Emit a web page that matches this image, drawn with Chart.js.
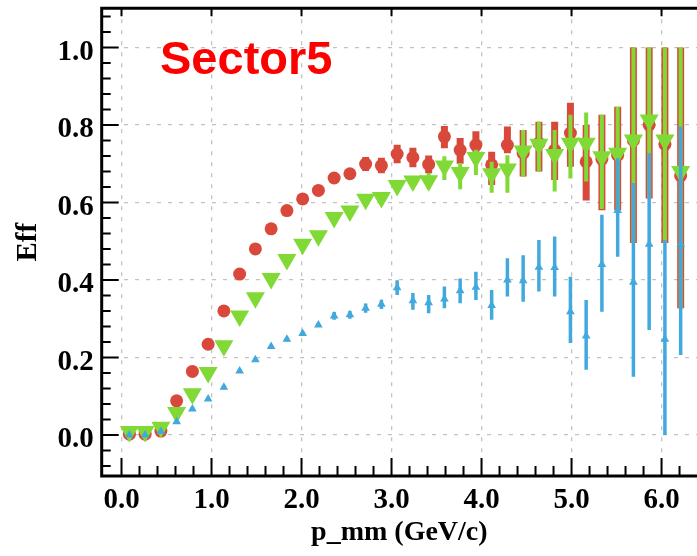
<!DOCTYPE html>
<html lang="en">
  <head>
    <title>Sector5 efficiency</title>
    <meta charset="UTF-8" />
    <style>
      html,
      body {
        margin: 0;
        padding: 0;
        background: #fff;
      }
      .plot {
        position: relative;
        width: 697px;
        height: 556px;
      }
    </style>
  </head>
  <body>
    <div class="plot">
      <canvas id="effChart" width="697" height="556"></canvas>
    </div>
    <script src="https://cdn.jsdelivr.net/npm/chart.js@4.4.0/dist/chart.umd.min.js"></script>
    <script>
      // bin centres in p_mm (GeV/c)
      var pBins = [0.0875, 0.2625, 0.4375, 0.6125, 0.7875, 0.9625, 1.1375, 1.3125, 1.4875,
        1.6625, 1.8375, 2.0125, 2.1875, 2.3625, 2.5375, 2.7125, 2.8875, 3.0625, 3.2375,
        3.4125, 3.5875, 3.7625, 3.9375, 4.1125, 4.2875, 4.4625, 4.6375, 4.8125, 4.9875,
        5.1625, 5.3375, 5.5125, 5.6875, 5.8625, 6.0375, 6.2125];

      // red circles
      var effRed = [0.002, 0.002, 0.01, 0.088, 0.164, 0.234, 0.32, 0.415, 0.48, 0.532,
        0.579, 0.609, 0.631, 0.663, 0.674, 0.699, 0.695, 0.725, 0.716, 0.698, 0.77, 0.735,
        0.748, 0.697, 0.748, 0.727, 0.753, 0.735, 0.779, 0.705, 0.712, 0.722, 0.76, 0.8,
        0.75, 0.669];
      var redUp = [0.008, 0.008, 0.008, 0.008, 0.008, 0.008, 0.008, 0.008, 0.008, 0.008,
        0.008, 0.008, 0.008, 0.008, 0.008, 0.018, 0.02, 0.024, 0.025, 0.023, 0.027, 0.031,
        0.036, 0.034, 0.048, 0.06, 0.055, 0.073, 0.078, 0.095, 0.114, 0.125, 0.24, 0.2,
        0.25, 0.331];
      var redDown = [0.002, 0.002, 0.008, 0.008, 0.008, 0.008, 0.008, 0.008, 0.008, 0.008,
        0.008, 0.008, 0.008, 0.008, 0.008, 0.018, 0.02, 0.024, 0.025, 0.023, 0.03, 0.035,
        0.017, 0.052, 0.021, 0.06, 0.073, 0.077, 0.087, 0.1, 0.132, 0.142, 0.265, 0.19,
        0.255, 0.342];

      // green down-triangles
      var effGreen = [0.009, 0.009, 0.02, 0.058, 0.106, 0.161, 0.23, 0.307, 0.354, 0.404,
        0.453, 0.492, 0.514, 0.561, 0.578, 0.608, 0.613, 0.644, 0.655, 0.656, 0.694, 0.677,
        0.716, 0.674, 0.686, 0.733, 0.75, 0.724, 0.753, 0.753, 0.718, 0.727, 0.761, 0.813,
        0.761, 0.68];
      var greenUp = [0.01, 0.01, 0.01, 0.01, 0.01, 0.01, 0.01, 0.01, 0.01, 0.01, 0.01, 0.01,
        0.01, 0.01, 0.01, 0.01, 0.01, 0.01, 0.01, 0.02, 0.025, 0.025, 0.02, 0.031, 0.036,
        0.054, 0.058, 0.063, 0.073, 0.079, 0.108, 0.12, 0.239, 0.187, 0.239, 0.32];
      var greenDown = [0.01, 0.01, 0.01, 0.01, 0.01, 0.01, 0.01, 0.01, 0.01, 0.01, 0.01,
        0.01, 0.01, 0.01, 0.01, 0.01, 0.01, 0.01, 0.01, 0.02, 0.036, 0.043, 0.045, 0.049,
        0.061, 0.066, 0.07, 0.096, 0.091, 0.099, 0.135, 0.147, 0.266, 0.203, 0.266, 0.353];

      // blue up-triangles
      var effBlue = [0.0, 0.0, 0.009, 0.034, 0.067, 0.093, 0.123, 0.165, 0.194, 0.228,
        0.247, 0.262, 0.284, 0.307, 0.31, 0.327, 0.337, 0.38, 0.346, 0.341, 0.351, 0.372,
        0.381, 0.334, 0.4, 0.398, 0.433, 0.432, 0.318, 0.255, 0.44, 0.579, 0.394, 0.492,
        0.247, 0.492];
      var blueUp = [0.005, 0.005, 0.005, 0.005, 0.005, 0.005, 0.005, 0.005, 0.005, 0.005,
        0.005, 0.005, 0.005, 0.01, 0.01, 0.012, 0.012, 0.019, 0.02, 0.02, 0.032, 0.032,
        0.04, 0.04, 0.056, 0.066, 0.07, 0.08, 0.09, 0.093, 0.128, 0.135, 0.256, 0.235,
        0.256, 0.304];
      var blueDown = [0.0, 0.0, 0.005, 0.005, 0.005, 0.005, 0.005, 0.005, 0.005, 0.005,
        0.005, 0.005, 0.005, 0.01, 0.01, 0.012, 0.012, 0.019, 0.023, 0.027, 0.024, 0.032,
        0.033, 0.037, 0.043, 0.054, 0.063, 0.075, 0.081, 0.087, 0.122, 0.119, 0.244, 0.221,
        0.247, 0.286];

      var xTickStep = 1.0;
      var yTickStep = 0.2;

      function toPoints(vals) {
        return pBins.map(function (p, i) {
          return { x: p, y: vals[i] };
        });
      }

      // vertical error bars, drawn just under each dataset's markers
      var errorBars = {
        id: "errorBars",
        beforeDatasetDraw: function (chart, args) {
          var ds = chart.data.datasets[args.index];
          if (!ds.errUp) return;
          var ctx = chart.ctx;
          var ys = chart.scales.y;
          var a = chart.chartArea;
          ctx.save();
          ctx.beginPath();
          ctx.rect(a.left, a.top, a.right - a.left, a.bottom - a.top);
          ctx.clip();
          ctx.strokeStyle = ds.errColor;
          ctx.lineWidth = ds.errWidth;
          ctx.lineCap = "butt";
          args.meta.data.forEach(function (pt, i) {
            var v = ds.data[i].y;
            var top = ys.getPixelForValue(v + ds.errUp[i]);
            var bot = ys.getPixelForValue(v - ds.errDown[i]);
            ctx.beginPath();
            ctx.moveTo(pt.x, top);
            ctx.lineTo(pt.x, bot);
            ctx.stroke();
          });
          ctx.restore();
        },
      };

      // ROOT-like frame with inward ticks, and the sector label
      var frameTicks = {
        id: "frameTicks",
        afterDatasetsDraw: function (chart) {
          var ctx = chart.ctx;
          var a = chart.chartArea;
          var xs = chart.scales.x;
          var ys = chart.scales.y;
          var k, v, px, len;
          ctx.save();
          ctx.strokeStyle = "#000";
          ctx.lineWidth = 2;
          ctx.beginPath();
          for (k = -3; k <= 28; k++) {
            v = k * 0.04;
            px = ys.getPixelForValue(v);
            if (px < a.top + 2 || px > a.bottom - 2) continue;
            len = k % 5 === 0 ? 17 : 9;
            ctx.moveTo(a.left, px);
            ctx.lineTo(a.left + len, px);
          }
          for (k = -1; k <= 33; k++) {
            v = k * 0.2;
            px = xs.getPixelForValue(v);
            if (px < a.left + 2 || px > a.right) continue;
            len = k % 5 === 0 ? 18 : 10;
            ctx.moveTo(px, a.bottom);
            ctx.lineTo(px, a.bottom - len);
            if (k % 5 === 0) {
              ctx.moveTo(px, a.top);
              ctx.lineTo(px, a.top + 8);
            }
          }
          ctx.stroke();
          ctx.lineWidth = 3;
          ctx.beginPath();
          ctx.moveTo(chart.width + 2, a.top);
          ctx.lineTo(a.left, a.top);
          ctx.lineTo(a.left, a.bottom);
          ctx.lineTo(chart.width + 2, a.bottom);
          ctx.stroke();

          ctx.fillStyle = "#ff0000";
          ctx.font = "bold 47px 'Liberation Sans', Arial, sans-serif";
          ctx.textAlign = "left";
          ctx.textBaseline = "alphabetic";
          ctx.fillText("Sector5", 160, 74);
          ctx.restore();
        },
      };

      var serifBold = { family: "'Liberation Serif', 'Times New Roman', serif", weight: "bold" };

      var ctx = document.getElementById("effChart");
      var effChart = new Chart(ctx, {
        type: "scatter",
        data: {
          datasets: [
            {
              label: "red",
              data: toPoints(effRed),
              errUp: redUp,
              errDown: redDown,
              errColor: "#d9493b",
              errWidth: 7,
              pointStyle: "circle",
              pointRadius: 6.5,
              pointBorderWidth: 0,
              backgroundColor: "#d9493b",
              borderColor: "#d9493b",
              order: 3,
            },
            {
              label: "green",
              data: toPoints(effGreen),
              errUp: greenUp,
              errDown: greenDown,
              errColor: "#80d935",
              errWidth: 4,
              pointStyle: "triangle",
              pointRotation: 180,
              pointRadius: 11,
              pointBorderWidth: 0,
              backgroundColor: "#80d935",
              borderColor: "#80d935",
              order: 2,
            },
            {
              label: "blue",
              data: toPoints(effBlue),
              errUp: blueUp,
              errDown: blueDown,
              errColor: "#41a9dd",
              errWidth: 3.5,
              pointStyle: "triangle",
              pointRadius: 5,
              pointBorderWidth: 0,
              backgroundColor: "#41a9dd",
              borderColor: "#41a9dd",
              order: 1,
            },
          ],
        },
        options: {
          responsive: false,
          animation: false,
          devicePixelRatio: 1,
          layout: { autoPadding: false, padding: { top: 8.3, left: 0, right: 0, bottom: 0 } },
          plugins: {
            legend: { display: false },
            tooltip: { enabled: false },
          },
          scales: {
            x: {
              type: "linear",
              min: -0.22,
              max: 6.394,
              afterFit: function (scale) {
                scale.height = 80;
                scale.paddingLeft = 0;
                scale.paddingRight = 0;
              },
              ticks: {
                stepSize: xTickStep,
                includeBounds: false,
                padding: 7,
                color: "#000",
                font: Object.assign({ size: 29 }, serifBold),
                maxRotation: 0,
                autoSkip: false,
                callback: function (v) {
                  return Number(v).toFixed(1);
                },
              },
              grid: {
                drawTicks: false,
                color: "#c2c2c2",
                lineWidth: 1.3,
              },
              border: { display: false, dash: [4, 7] },
              title: {
                display: true,
                text: "p_mm (GeV/c)",
                color: "#000",
                font: Object.assign({ size: 28 }, serifBold),
                padding: { top: 0, bottom: 6 },
              },
            },
            y: {
              type: "linear",
              min: -0.106,
              max: 1.101,
              afterFit: function (scale) {
                scale.width = 101.7;
                scale.paddingTop = 0;
                scale.paddingBottom = 0;
              },
              ticks: {
                stepSize: yTickStep,
                includeBounds: false,
                padding: 8,
                labelOffset: 5,
                color: "#000",
                font: Object.assign({ size: 29 }, serifBold),
                autoSkip: false,
                callback: function (v) {
                  return Number(v).toFixed(1);
                },
              },
              grid: {
                drawTicks: false,
                color: "#c2c2c2",
                lineWidth: 1.3,
              },
              border: { display: false, dash: [4, 7] },
              title: {
                display: true,
                text: "Eff",
                color: "#000",
                font: Object.assign({ size: 29 }, serifBold),
                padding: { top: 11, bottom: 0 },
              },
            },
          },
        },
        plugins: [errorBars, frameTicks],
      });
    </script>
  </body>
</html>
